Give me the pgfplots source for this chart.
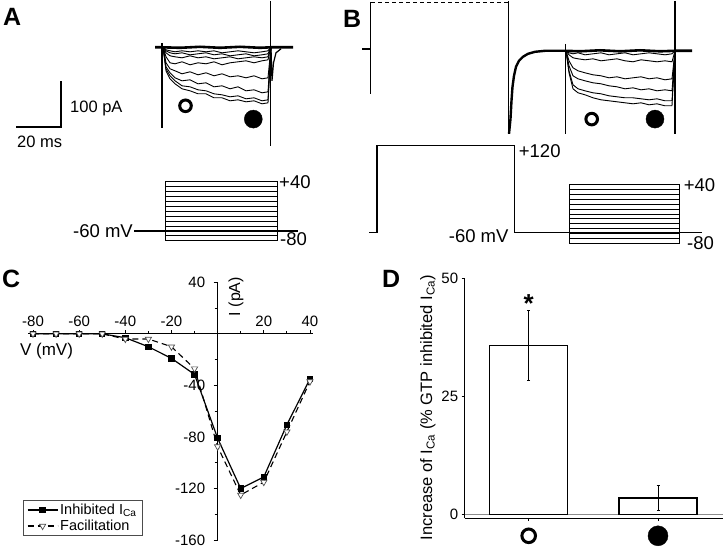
\documentclass[border=0pt]{standalone}
\usepackage{fontspec}
\setmainfont{Liberation Sans}
\usepackage{pgfplots}
\pgfplotsset{compat=1.18}
\newcommand{\lab}{\fontsize{15}{18}\selectfont}
\newcommand{\scl}{\fontsize{16.5}{19}\selectfont}
\newcommand{\prot}{\fontsize{18.5}{21}\selectfont}
\newcommand{\panelfont}{\fontsize{25}{28}\selectfont\bfseries}

\begin{document}
\begin{tikzpicture}
\path (0pt,0pt) rectangle (724pt,545pt);

% overlay in pixel units (y down): traces, protocols, scale bar, labels
\begin{axis}[at={(0pt,0pt)}, anchor=south west, scale only axis,
  width=724pt, height=545pt, xmin=0, xmax=724, ymin=0, ymax=545,
  y dir=reverse, hide axis, clip=false]
% ---- panel A traces
\addplot[black, line width=2.6pt] coordinates {(155,46.5)(162,46.5)(180,47)(200,46)(220,47)(240,46)(260,47)(271,46.5)(293,46.5)};
\addplot[black, line width=0.9pt] coordinates {(163,46)(166,49)(170,50)(175,51)(182,50)(190,51)(198,50)(206,51)(214,50)(222,52)(230,51)(238,50)(246,51)(254,52)(262,51)(268,50)(271,46)};
\addplot[black, line width=0.9pt] coordinates {(163,46)(166,50)(170,52)(175,53)(182,52)(190,54)(198,53)(206,52)(214,54)(222,53)(230,55)(238,54)(246,53)(254,55)(262,54)(268,53)(271,46)};
\addplot[black, line width=0.9pt] coordinates {(163,46)(166,52)(170,55)(175,56)(182,57)(190,55)(198,57)(206,56)(214,58)(222,57)(230,56)(238,58)(246,57)(254,56)(262,57)(268,56)(271,46)};
\addplot[black, line width=0.9pt] coordinates {(163,46)(166,56)(170,62)(175,63)(182,61)(190,64)(198,62)(206,63)(214,61)(222,64)(230,62)(238,61)(246,60)(254,62)(262,60)(268,59)(271,46)};
\addplot[black, line width=0.9pt] coordinates {(163,46)(166,62)(170,68)(175,70)(182,73)(190,71)(198,74)(206,72)(214,75)(222,73)(230,76)(238,75)(246,77)(254,75)(262,78)(268,77)(271,46)};
\addplot[black, line width=0.9pt] coordinates {(163,46)(166,66)(170,72)(175,77)(182,80)(190,79)(198,83)(206,82)(214,86)(222,85)(230,88)(238,86)(246,90)(254,89)(262,92)(268,91)(271,46)};
\addplot[black, line width=0.9pt] coordinates {(163,46)(166,68)(170,75)(175,80)(182,85)(190,86)(198,89)(206,90)(214,93)(222,94)(230,96)(238,95)(246,98)(254,97)(262,100)(268,99)(271,46)};
\addplot[black, line width=0.9pt] coordinates {(163,46)(166,70)(170,78)(175,83)(182,88)(190,90)(198,93)(206,93)(214,97)(222,97)(230,100)(238,99)(246,101)(254,100)(262,103)(268,102)(271,46)};
\addplot[black, line width=1.6pt] coordinates {(162,42)(162,127)};
\addplot[black, line width=1.6pt] coordinates {(270.5,0)(270.5,145)};
\addplot[black, line width=1.2pt] coordinates {(271,47)(272,80)(273.5,62)(276,52)(281,48)};
\addplot[black, line width=3pt, mark=o, mark size=5.8pt, only marks] coordinates {(185.5,105)};
\addplot[black, mark=*, mark size=9pt, only marks] coordinates {(253.3,118.3)};
% scale bar
\addplot[black, line width=2.5pt] coordinates {(16,126)(61,126)(61,80)};
% ---- panel A protocol
\addplot[black, line width=1.2pt] coordinates {(134,230.2)(298,230.2)};
\addplot[black, line width=1pt] coordinates {(165,181)(277.5,181)(277.5,185.9)(165,185.9)(165,190.8)(277.5,190.8)(277.5,195.75)(165,195.75)(165,200.7)(277.5,200.7)(277.5,205.6)(165,205.6)(165,210.5)(277.5,210.5)(277.5,215.4)(165,215.4)(165,220.3)(277.5,220.3)(277.5,225.25)(165,225.25)(165,230.2)(277.5,230.2)(277.5,235.1)(165,235.1)(165,240)(277.5,240)(277.5,181)};
\addplot[black, line width=1pt] coordinates {(165,181)(165,240)};
% ---- panel B traces
\addplot[black, line width=2pt] coordinates {(362,48)(370.5,48)};
\addplot[black, line width=1.6pt] coordinates {(370.5,1)(370.5,93)};
\addplot[black, line width=1.2pt, dashed, dash pattern=on 4pt off 3pt] coordinates {(371,1.5)(508,1.5)};
\addplot[black, line width=1.6pt] coordinates {(508.5,0)(508.5,133)};
\addplot[black, line width=2.4pt] coordinates {(509,133)(510.5,118)(511.5,100)(512.5,86)(514,75)(516,66)(519,60)(523,56)(528,53)(535,51)(545,50)(565,50)};
\addplot[black, line width=2.6pt] coordinates {(565,50)(580,50.5)(600,49.5)(620,50.5)(640,49.5)(660,50.5)(675,50)(692,50)};
\addplot[black, line width=0.9pt] coordinates {(566,50)(569,52)(573,53)(578,52)(585,54)(593,53)(601,52)(609,54)(617,53)(625,52)(633,54)(641,53)(649,52)(657,53)(665,54)(672,53)(675,50)};
\addplot[black, line width=0.9pt] coordinates {(566,50)(569,54)(573,57)(578,58)(585,59)(593,58)(601,60)(609,59)(617,58)(625,60)(633,61)(641,59)(649,60)(657,61)(665,60)(672,61)(675,50)};
\addplot[black, line width=0.9pt] coordinates {(566,50)(569,60)(573,67)(578,70)(585,72)(593,74)(601,75)(609,77)(617,76)(625,78)(633,77)(641,76)(649,78)(657,77)(665,79)(672,78)(675,50)};
\addplot[black, line width=0.9pt] coordinates {(566,50)(569,65)(573,75)(578,78)(585,80)(593,82)(601,83)(609,85)(617,86)(625,88)(633,87)(641,89)(649,88)(657,90)(665,89)(672,90)(675,50)};
\addplot[black, line width=0.9pt] coordinates {(566,50)(569,70)(573,84)(578,88)(585,90)(593,92)(601,93)(609,95)(617,96)(625,97)(633,97)(641,98)(649,99)(657,98)(665,100)(672,100)(675,50)};
\addplot[black, line width=0.9pt] coordinates {(566,50)(569,72)(573,88)(578,92)(585,94)(593,97)(601,99)(609,100)(617,101)(625,102)(633,103)(641,102)(649,104)(657,103)(665,105)(672,105)(675,50)};
\addplot[black, line width=1.6pt] coordinates {(565.5,43)(565.5,133)};
\addplot[black, line width=1.6pt] coordinates {(675,0)(675,133)};
\addplot[black, line width=3pt, mark=o, mark size=5.8pt, only marks] coordinates {(591.7,118.3)};
\addplot[black, mark=*, mark size=9pt, only marks] coordinates {(655,118.3)};
% ---- panel B protocol
\addplot[black, line width=1.2pt] coordinates {(369,231.7)(377,231.7)(377,145)(514.5,145)(514.5,231.7)(702,231.7)};
\addplot[black, line width=1pt] coordinates {(569.3,184)(679.7,184)(679.7,188.9)(569.3,188.9)(569.3,193.8)(679.7,193.8)(679.7,198.7)(569.3,198.7)(569.3,203.6)(679.7,203.6)(679.7,208.5)(569.3,208.5)(569.3,213.4)(679.7,213.4)(679.7,218.2)(569.3,218.2)(569.3,223.1)(679.7,223.1)(679.7,228)(569.3,228)(569.3,232.9)(679.7,232.9)(679.7,237.8)(569.3,237.8)(569.3,242.7)(679.7,242.7)(679.7,184)};
\addplot[black, line width=1pt] coordinates {(569.3,184)(569.3,242.7)};
% ---- circles under panel D
\addplot[black, line width=3pt, mark=o, mark size=6.8pt, only marks] coordinates {(528.7,535)};
\addplot[black, mark=*, mark size=10pt, only marks] coordinates {(658,535)};
% ---- labels
\node[anchor=base west, inner sep=0pt, font=\panelfont] at (axis cs:3,25) {A};
\node[anchor=base west, inner sep=0pt, font=\panelfont] at (axis cs:343,27) {B};
\node[anchor=base west, inner sep=0pt, font=\panelfont] at (axis cs:2,287) {C};
\node[anchor=base west, inner sep=0pt, font=\panelfont] at (axis cs:382,287) {D};
\node[anchor=base west, inner sep=0pt, font=\scl] at (axis cs:70,111.5) {100 pA};
\node[anchor=base west, inner sep=0pt, font=\scl] at (axis cs:17,147) {20 ms};
\node[anchor=base east, inner sep=0pt, font=\prot] at (axis cs:133,237) {-60 mV};
\node[anchor=base west, inner sep=0pt, font=\prot] at (axis cs:279,187.5) {+40};
\node[anchor=base west, inner sep=0pt, font=\prot] at (axis cs:280,245) {-80};
\node[anchor=base west, inner sep=0pt, font=\prot] at (axis cs:518.7,156.5) {+120};
\node[anchor=base east, inner sep=0pt, font=\prot] at (axis cs:508.7,242) {-60 mV};
\node[anchor=base west, inner sep=0pt, font=\prot] at (axis cs:683.7,191) {+40};
\node[anchor=base west, inner sep=0pt, font=\prot] at (axis cs:687,248.5) {-80};
\node[anchor=base, inner sep=0pt, font=\fontsize{17}{20}\selectfont] at (axis cs:46.5,355) {V (mV)};
\node[anchor=base east, rotate=90, inner sep=0pt, font=\fontsize{16}{19}\selectfont] at (axis cs:240,276) {I (pA)};
\node[anchor=base, rotate=90, inner sep=0pt, font=\fontsize{16.5}{19}\selectfont] at (axis cs:432,407) {Increase of I\textsubscript{Ca} (\% GTP inhibited I\textsubscript{Ca})};
\node[anchor=center, inner sep=0pt, font=\fontsize{26}{28}\selectfont\bfseries] at (axis cs:528.7,303) {*};
\end{axis}

% ---- panel C: I-V curve
\begin{axis}[at={(28.4pt,5.7pt)}, anchor=south west, scale only axis,
  width=285pt, height=257.8pt,
  xmin=-82, xmax=41.5, ymin=-160, ymax=40,
  axis lines=middle, axis line style={-, line width=1pt},
  xtick={-80,-60,-40,-20,0,20,40}, ytick={-160,-120,-80,-40,0,40},
  minor xtick={-70,-50,-30,-10,10,30}, minor ytick={-140,-100,-60,-20,20},
  xtick align=inside, ytick align=outside,
  major tick length=4pt, minor tick length=3pt,
  tick style={black, line width=0.8pt},
  /pgf/number format/assume math mode=true,
  tick label style={font=\lab},
  xticklabel style={anchor=south, yshift=4pt},
  yticklabel style={xshift=-5pt},
  clip=false,
  legend image code/.code={\draw[mark repeat=2, mark phase=2]
    plot coordinates {(0pt,0pt) (15pt,0pt) (30pt,0pt)};},
  legend style={at={(axis description cs:-0.02,0.0167)}, anchor=south west,
    draw=black!70, line width=0.6pt, font=\fontsize{14.5}{17}\selectfont,
    inner xsep=4pt, inner ysep=1.5pt, row sep=0pt},
  legend cell align=left]
\addplot[black, line width=1.2pt, mark=square*, mark size=2.6pt] coordinates {(-80,0)(-70,0)(-60,0)(-50,0)(-40,-3)(-30,-10)(-20,-19)(-10,-31.5)(0,-81)(10,-120)(20,-111)(30,-70.5)(40,-35)};
\addlegendentry{Inhibited I\textsubscript{Ca}}
\addplot[black, line width=1.1pt, dashed, dash pattern=on 6pt off 4pt, mark=triangle*, mark size=3.6pt,
  mark options={solid, rotate=180, fill=white, draw=black!70, line width=0.7pt}] coordinates {(-80,0)(-70,0)(-60,0)(-50,0)(-40,-4)(-30,-4)(-20,-10)(-10,-27)(0,-87.5)(10,-125)(20,-115)(30,-76)(40,-37)};
\addlegendentry{Facilitation}
\end{axis}

% ---- panel D: bar chart
\begin{axis}[at={(464.7pt,27.7pt)}, anchor=south west, scale only axis,
  width=258pt, height=240pt, xmin=-0.495, xmax=1.5, ymin=-0.85, ymax=50,
  axis x line=bottom, axis y line=left, axis line style={-, line width=1pt},
  xtick={0,1}, xticklabels={}, ytick={0,25,50},
  tick align=outside, major tick length=3pt, tick style={black, line width=0.8pt},
  /pgf/number format/assume math mode=true,
  tick label style={font=\lab},
  ybar, bar width=78pt, clip=false]
\draw[black!45, line width=1pt] (axis cs:-0.495,0) -- (axis cs:1.5,0);
\addplot[fill=white, draw=black, line width=1.1pt,
  error bars/.cd, y dir=both, y explicit,
  error bar style={line width=1pt, black},
  error mark options={rotate=90, mark size=1.5pt, line width=1pt}]
  coordinates {(0,35.75) +- (0,7.35) (1,3.4) +- (0,2.7)};
\end{axis}
\end{tikzpicture}
\end{document}
